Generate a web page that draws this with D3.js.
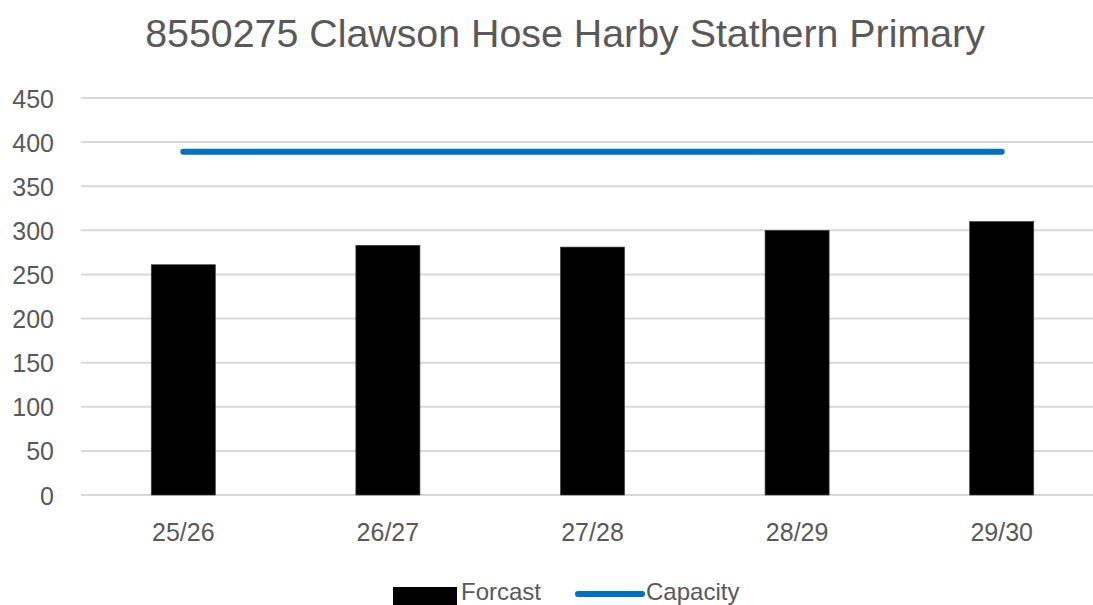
<!DOCTYPE html>
<html>
<head>
<meta charset="utf-8">
<script src="https://cdn.jsdelivr.net/npm/d3@7"></script>
<style>
  html, body { margin: 0; padding: 0; background: #fff; }
  svg { display: block; }
</style>
</head>
<body>
<div id="chart"></div>
<script>
var years = ["25/26", "26/27", "27/28", "28/29", "29/30"];
var forcast = [261, 283, 281, 300, 310];
var capacity = [389, 389, 389, 389, 389];
var yTicks = [0, 50, 100, 150, 200, 250, 300, 350, 400, 450];

var w = 1093;
var h = 605;
var grey = "#595959";

var svg = d3.select("#chart")
    .append("svg")
    .attr("width", w)
    .attr("height", h);

var x = d3.scaleBand()
    .domain(years)
    .range([81, 1104])
    .paddingInner(0.687)
    .paddingOuter(0.3435);

var y = d3.scaleLinear()
    .domain([0, 450])
    .range([495, 98]);

// gridlines
svg.append("g")
    .selectAll("line")
    .data(yTicks)
    .enter()
    .append("line")
    .attr("x1", 81)
    .attr("x2", w)
    .attr("y1", function(d) { return y(d); })
    .attr("y2", function(d) { return y(d); })
    .style("stroke", "#d9d9d9")
    .style("stroke-width", 2);

// y axis labels
var yAxis = d3.axisLeft(y).tickValues(yTicks).tickSize(0).tickPadding(0);
var ya = svg.append("g")
    .attr("transform", "translate(54,0)")
    .call(yAxis);
ya.select(".domain").remove();
ya.selectAll("text")
    .attr("dy", "0.36em")
    .style("font-family", "'Liberation Sans', Arial, sans-serif")
    .style("font-size", "25px")
    .style("fill", grey);

// x axis labels
var xAxis = d3.axisBottom(x).tickSize(0).tickPadding(0);
var xa = svg.append("g")
    .attr("transform", "translate(0,523)")
    .call(xAxis);
xa.select(".domain").remove();
xa.selectAll("text")
    .attr("dy", "0.72em")
    .style("font-family", "'Liberation Sans', Arial, sans-serif")
    .style("font-size", "25px")
    .style("fill", grey);

// bars
svg.append("g")
    .selectAll("rect")
    .data(forcast)
    .enter()
    .append("rect")
    .attr("x", function(d, i) { return x(years[i]); })
    .attr("width", x.bandwidth())
    .attr("y", function(d) { return y(d); })
    .attr("height", function(d) { return y(0) - y(d); })
    .style("fill", "#000")
    .style("stroke", "#404040")
    .style("stroke-width", 0.7);

// capacity line
var line = d3.line()
    .x(function(d, i) { return x(years[i]) + x.bandwidth() / 2; })
    .y(function(d) { return y(d); });

svg.append("path")
    .datum(capacity)
    .attr("d", line)
    .style("fill", "none")
    .style("stroke", "#0070c0")
    .style("stroke-width", 6)
    .style("stroke-linecap", "round");

// title
var title = svg.append("text")
    .attr("x", 565)
    .attr("y", 47)
    .attr("text-anchor", "middle")
    .style("font-family", "'Liberation Sans Narrow', 'Liberation Sans', Arial, sans-serif")
    .style("font-size", "38px")
    .style("fill", grey)
    .text("8550275 Clawson Hose Harby Stathern Primary");
var tw = title.node().getComputedTextLength();
title.style("font-size", (38 * 840 / tw) + "px");

// legend (sits at the very bottom edge, as in the reference)
var leg = svg.append("g");
leg.append("rect")
    .attr("x", 393)
    .attr("y", 587)
    .attr("width", 64)
    .attr("height", 18)
    .style("fill", "#000");
leg.append("text")
    .attr("x", 461)
    .attr("y", 600)
    .style("font-family", "'Liberation Sans', Arial, sans-serif")
    .style("font-size", "24px")
    .style("fill", grey)
    .text("Forcast");
leg.append("line")
    .attr("x1", 578)
    .attr("x2", 642)
    .attr("y1", 594)
    .attr("y2", 594)
    .style("stroke", "#0070c0")
    .style("stroke-width", 6)
    .style("stroke-linecap", "round");
leg.append("text")
    .attr("x", 646)
    .attr("y", 600)
    .style("font-family", "'Liberation Sans', Arial, sans-serif")
    .style("font-size", "24px")
    .style("fill", grey)
    .text("Capacity");
</script>
</body>
</html>
